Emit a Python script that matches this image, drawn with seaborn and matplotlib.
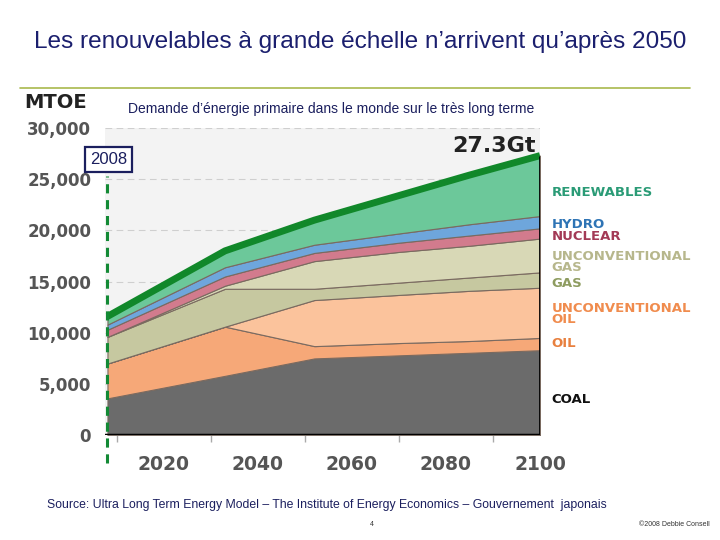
import matplotlib
matplotlib.use("Agg")
import matplotlib.pyplot as plt
import seaborn as sns
import pandas as pd

# Data (MTOE)
years = [2008, 2033, 2052, 2070, 2085, 2100]
coal = [3600, 5800, 7500, 7800, 8050, 8300]
oil = [3400, 4800, 1200, 1200, 1150, 1200]
unconv_oil = [0, 0, 4500, 4700, 4900, 4900]
gas = [2600, 3700, 1100, 1200, 1300, 1500]
unconv_gas = [0, 300, 2700, 3000, 3100, 3300]
nuclear = [700, 900, 800, 900, 1000, 1000]
hydro = [500, 900, 800, 900, 1100, 1200]
renewables = [800, 1600, 2400, 3700, 4800, 5900]

sources = ["COAL", "OIL", "UNCONVENTIONAL\nOIL", "GAS", "UNCONVENTIONAL\nGAS",
           "NUCLEAR", "HYDRO", "RENEWABLES"]
fill_colors = ["#6b6b6b", "#f6a878", "#fbc39c", "#c6c8a0", "#d8d8b6",
               "#d27b8d", "#6ea6dc", "#6cc89a"]
label_colors = ["#111111", "#e8803f", "#f08c4e", "#8e9c60", "#b7b78c",
                "#a33a56", "#2e74b5", "#2a9b76"]
# label vertical positions (MTOE) on the right of the chart
label_y = [3500, 9000, 11800, 14800, 16950, 19400, 20600, 23700]

df = pd.DataFrame({"year": years, "coal": coal, "oil": oil, "unconv_oil": unconv_oil,
                   "gas": gas, "unconv_gas": unconv_gas, "nuclear": nuclear,
                   "hydro": hydro, "renewables": renewables})
layers = ["coal", "oil", "unconv_oil", "gas", "unconv_gas", "nuclear", "hydro", "renewables"]
df["total"] = df[layers].sum(axis=1)

sns.set_theme(style="white")
plt.rcParams["font.family"] = ["DejaVu Sans"]

fig = plt.figure(figsize=(7.2, 5.4), dpi=100)
ax = fig.add_axes([0.146, 0.194, 0.604, 0.569])
ax.set_facecolor("#f3f3f3")

ax.stackplot(df["year"], [df[c] for c in layers], colors=fill_colors,
             edgecolor="#7a6a60", linewidth=0.8)
sns.lineplot(x=df["year"], y=df["total"], color="#11882a", linewidth=5, ax=ax,
             solid_capstyle="butt")
ax.vlines(years[-1], 0, df["total"].iloc[-1], color="black", linewidth=2)
ax.axhline(0, color="black", linewidth=2.5, zorder=5)

ax.set_xlim(2007.5, 2100)
ax.set_ylim(0, 30000)
ax.set_xticks([2020, 2040, 2060, 2080, 2100])
ax.set_xticks([2010, 2030, 2050, 2070, 2090], minor=True)
ax.set_yticks(range(0, 30001, 5000))
ax.set_yticklabels([f"{v:,}" for v in range(0, 30001, 5000)])
ax.yaxis.grid(True, linestyle=(0, (6, 4)), color="#cfcfcf", linewidth=0.8)
ax.set_axisbelow(True)
for s in ax.spines.values():
    s.set_visible(False)
ax.tick_params(axis="both", which="both", colors="#aaaaaa", length=8, width=1,
               direction="out")
ax.tick_params(axis="x", which="minor", length=5, bottom=True)
ax.tick_params(axis="x", labelsize=13.5, pad=6, labelcolor="#555555")
ax.tick_params(axis="y", labelsize=12, pad=2, labelcolor="#555555")
for t in ax.get_xticklabels() + ax.get_yticklabels():
    t.set_fontweight("bold")
ax.set_xlabel("")
ax.set_ylabel("")

# source labels
for name, y, c in zip(sources, label_y, label_colors):
    ax.text(1.026, y, name, transform=ax.get_yaxis_transform(), color=c,
            fontsize=9.5, fontweight="bold", va="center", ha="left",
            linespacing=0.8, clip_on=False)

ax.text(2099, 28200, "27.3Gt", ha="right", va="center", fontsize=16,
        fontweight="bold", color="#222222")

# 2008 marker
ax.axvline(2008, ymin=-0.09, ymax=0.845, color="#138a35", linestyle=(0, (3, 2.2)),
           linewidth=2.2, clip_on=False, zorder=6)
fig.text(108.5 / 720, 1 - 159.5 / 540, "2008", ha="center", va="center",
         fontsize=12, color="#1b1f5e", family="Liberation Sans",
         bbox=dict(boxstyle="square,pad=0.32", fc="white", ec="#1b1f5e", lw=1.6))

# slide texts
fig.text(0.5, 1 - 42 / 540, "Les renouvelables à grande échelle n’arrivent qu’après 2050",
         ha="center", va="center", fontsize=17.6, color="#1b1f6e", family="Liberation Sans")
fig.add_artist(plt.Line2D([20 / 720, 690 / 720], [1 - 88 / 540, 1 - 88 / 540],
                          color="#a9b94d", linewidth=1.2))
fig.text(24 / 720, 1 - 102 / 540, "MTOE", ha="left", va="center", fontsize=14,
         fontweight="bold", color="#222222")
fig.text(128 / 720, 1 - 109 / 540,
         "Demande d’énergie primaire dans le monde sur le très long terme",
         ha="left", va="center", fontsize=10, color="#1b1f5e", family="Liberation Sans")
fig.text(47 / 720, 1 - 505 / 540,
         "Source: Ultra Long Term Energy Model – The Institute of Energy Economics – Gouvernement  japonais",
         ha="left", va="center", fontsize=8.8, color="#1b1f5e", family="Liberation Sans")
fig.text(372 / 720, 1 - 524 / 540, "4", ha="center", va="center", fontsize=5,
         color="#333333", family="Liberation Sans")
fig.text(710 / 720, 1 - 525 / 540, "©2008 Debbie Consell", ha="right", va="center",
         fontsize=5, color="#333333", family="Liberation Sans")

fig.savefig("out.png", dpi=100)
